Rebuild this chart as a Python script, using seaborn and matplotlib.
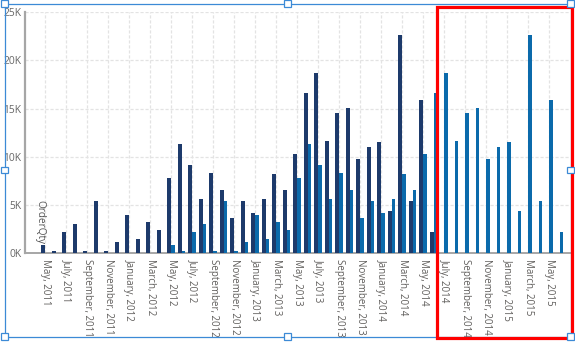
import matplotlib
matplotlib.use("Agg")
import matplotlib.pyplot as plt
from matplotlib.patches import Rectangle
import numpy as np
import pandas as pd
import seaborn as sns

# ---------------- data ----------------
months = [
    "May, 2011", "June, 2011", "July, 2011", "August, 2011", "September, 2011", "October, 2011",
    "November, 2011", "December, 2011", "January, 2012", "February, 2012", "March, 2012", "April, 2012",
    "May, 2012", "June, 2012", "July, 2012", "August, 2012", "September, 2012", "October, 2012",
    "November, 2012", "December, 2012", "January, 2013", "February, 2013", "March, 2013", "April, 2013",
    "May, 2013", "June, 2013", "July, 2013", "August, 2013", "September, 2013", "October, 2013",
    "November, 2013", "December, 2013", "January, 2014", "February, 2014", "March, 2014", "April, 2014",
    "May, 2014", "June, 2014", "July, 2014", "August, 2014", "September, 2014", "October, 2014",
    "November, 2014", "December, 2014", "January, 2015", "February, 2015", "March, 2015", "April, 2015",
    "May, 2015", "June, 2015",
]

# OrderQty (current period): May 2011 .. June 2014
order_qty_months = months[:38]
order_qty = [
    860, 200, 2230, 2990, 200, 5390, 270, 1130, 3980, 1470, 3260, 2400,
    7830, 11340, 9200, 5600, 8350, 6600, 3640, 5460, 4190, 5670, 8250, 6530,
    10300, 16600, 18700, 11600, 14570, 15050, 9760, 11030, 11500, 4360, 22580, 5390,
    15900, 2160,
]

# OrderQty previous year: May 2012 .. June 2015
order_qty_ly_months = months[12:]
order_qty_ly = [
    860, 200, 2230, 2990, 200, 5390, 270, 1130, 3980, 1470, 3260, 2400,
    7830, 11340, 9200, 5600, 8350, 6600, 3640, 5460, 4190, 5670, 8250, 6530,
    10300, 16600, 18700, 11600, 14570, 15050, 9760, 11030, 11500, 4360, 22580, 5390,
    15900, 2160,
]

series_names = ["OrderQty", "OrderQty LY"]
tick_labels = months[::2]
y_ticks = [0, 5000, 10000, 15000, 20000, 25000]

df = pd.concat([
    pd.DataFrame({"Month": order_qty_months, "Series": series_names[0], "Qty": order_qty}),
    pd.DataFrame({"Month": order_qty_ly_months, "Series": series_names[1], "Qty": order_qty_ly}),
], ignore_index=True)

# ---------------- style ----------------
sns.set_style("white")
plt.rcParams["font.family"] = ["Open Sans", "DejaVu Sans"]

W, H = 575, 344
fig = plt.figure(figsize=(W / 100, H / 100), dpi=100)
ax_left, ax_right, ax_top, ax_bottom = 25, 570, 12, 253.3
ax = fig.add_axes([ax_left / W, 1 - ax_bottom / H, (ax_right - ax_left) / W, (ax_bottom - ax_top) / H])

dark = "#1d3a6b"
blue = "#0b6aab"
sns.barplot(data=df, x="Month", y="Qty", hue="Series", order=months, hue_order=series_names,
            palette=[dark, blue], width=0.72, dodge=True, saturation=1, errorbar=None,
            legend=False, ax=ax, zorder=3, linewidth=0, edgecolor="none")

ax.set_xlim(-1.92, 50.0)
ax.set_ylim(0, 25000)

tick_pos = [months.index(m) for m in tick_labels]
ax.set_xticks(tick_pos)
ax.set_xticklabels(tick_labels, rotation=-90, ha="center", va="top", fontsize=7.0, color="#605e5c")
ax.set_yticks(y_ticks)
ax.set_yticklabels([f"{v // 1000}K" for v in y_ticks], fontsize=7.4, color="#666666")
ax.tick_params(axis="both", length=0)
ax.tick_params(axis="x", pad=4)
ax.tick_params(axis="y", pad=2.5)

ax.grid(True, axis="both", color="#e3e3e3", linestyle=(0, (2.5, 1.5)), linewidth=0.9, zorder=0)
ax.set_axisbelow(True)

for s in ["top", "right"]:
    ax.spines[s].set_visible(False)
ax.spines["left"].set_color("#a6a6a6")
ax.spines["left"].set_linewidth(1.6)
ax.spines["bottom"].set_color("#a6a6a6")
ax.spines["bottom"].set_linewidth(1.4)

ax.set_xlabel("")
ax.set_ylabel("OrderQty", rotation=-90, fontsize=7.2, color="#555555", va="center", ha="center")
ax.yaxis.set_label_coords((40 - ax_left) / (ax_right - ax_left), (ax_bottom - 221.5) / (ax_bottom - ax_top))

# ---------------- decorations (selection frame, handles, red highlight) ----------------
def px_rect(x0, y0, x1, y1, **kw):
    r = Rectangle((x0 / W, 1 - y1 / H), (x1 - x0) / W, (y1 - y0) / H,
                  transform=fig.transFigure, **kw)
    fig.add_artist(r)
    return r

frame_c = "#3c8ad6"
px_rect(4.5, 3.5, 570.5, 336.5, fill=False, edgecolor=frame_c, linewidth=0.9, zorder=10)
for hx, hy in [(4.5, 3.5), (287.5, 3.5), (570.5, 3.5), (4.5, 170), (570.5, 170),
               (4.5, 336.5), (287.5, 336.5), (570.5, 336.5)]:
    px_rect(hx - 3.3, hy - 3.3, hx + 3.3, hy + 3.3, facecolor="white", edgecolor=frame_c,
            linewidth=0.9, zorder=12)

px_rect(436.5, 6.5, 572, 338, fill=False, edgecolor="#ff0000", linewidth=2.3, zorder=11)

fig.savefig("out.png", dpi=100)
